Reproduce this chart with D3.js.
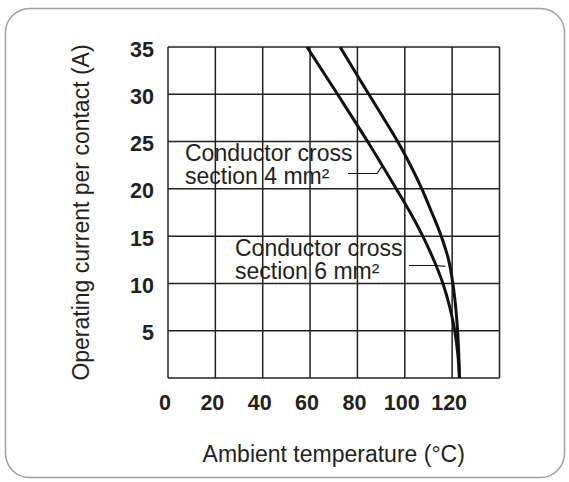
<!DOCTYPE html>
<html>
<head>
<meta charset="utf-8">
<script src="https://cdn.jsdelivr.net/npm/d3@7"></script>
<style>
  html, body { margin: 0; padding: 0; background: #fff; }
  svg { display: block; }
  text { font-family: "Liberation Sans", Arial, Helvetica, sans-serif; fill: #231f20; }
</style>
</head>
<body>
<svg id="chart" width="569" height="482"></svg>
<script>
// ---- data ----
const current4 = [35, 30, 25, 20, 17.5, 15, 12.5, 10, 7.5, 5, 2.5, 0];
const temp4    = [58.7, 71.6, 84.3, 96.4, 102.3, 107.6, 112.2, 116.1, 119.0, 121.1, 122.4, 123.1];

const current6 = [35, 30, 27.5, 25, 22.5, 20, 17.5, 15, 12.5, 10, 7.5, 5, 2.5, 0];
const temp6    = [72.7, 84.8, 91.0, 97.0, 102.4, 107.2, 111.4, 115.4, 118.5, 120.3, 121.5, 122.3, 122.8, 123.1];

const xTicks = [0, 20, 40, 60, 80, 100, 120];
const yTicks = [5, 10, 15, 20, 25, 30, 35];
const xGrid = [0, 20, 40, 60, 80, 100, 120, 140];
const yGrid = [0, 5, 10, 15, 20, 25, 30, 35];

const xTitle = "Ambient temperature (°C)";
const yTitle = "Operating current per contact (A)";
const label4 = ["Conductor cross", "section 4 mm²"];
const label6 = ["Conductor cross", "section 6 mm²"];

// ---- layout ----
const svg = d3.select("#chart");
const W = 569, H = 482;
const pL = 168, pR = 499.5, pT = 47, pB = 378;

const x = d3.scaleLinear().domain([0, 140]).range([pL, pR]);
const y = d3.scaleLinear().domain([0, 35]).range([pB, pT]);

svg.append("rect").attr("width", W).attr("height", H).attr("fill", "#fff");

// card frame
svg.append("rect")
  .attr("x", 5.5).attr("y", 8.5).attr("width", 559).attr("height", 469)
  .attr("rx", 24).attr("ry", 24)
  .attr("fill", "none").attr("stroke", "#a0a0a0").attr("stroke-width", 1.5);

const ink = "#231f20";

// grid
const g = svg.append("g");
g.selectAll("line.v").data(xGrid).join("line")
  .attr("x1", d => x(d)).attr("x2", d => x(d))
  .attr("y1", y(0)).attr("y2", y(35))
  .attr("stroke", ink).attr("stroke-width", 1.5);
g.selectAll("line.h").data(yGrid).join("line")
  .attr("y1", d => y(d)).attr("y2", d => y(d))
  .attr("x1", x(0)).attr("x2", x(140))
  .attr("stroke", ink).attr("stroke-width", 1.5);

// tick labels
svg.append("g").selectAll("text").data(yTicks).join("text")
  .attr("x", 154).attr("y", d => y(d) + 9.5)
  .attr("text-anchor", "end")
  .attr("font-size", 21.5).attr("font-weight", "bold")
  .text(d => d);

svg.append("g").selectAll("text").data(xTicks).join("text")
  .attr("x", d => x(d) - 3).attr("y", 410)
  .attr("text-anchor", "middle")
  .attr("font-size", 21.5).attr("font-weight", "bold")
  .text(d => d);

// axis titles
svg.append("text")
  .attr("x", (pL + pR) / 2).attr("y", 462)
  .attr("text-anchor", "middle").attr("font-size", 23)
  .text(xTitle);

svg.append("text")
  .attr("transform", `translate(89,${(pT + pB) / 2}) rotate(-90)`)
  .attr("text-anchor", "middle").attr("font-size", 23)
  .text(yTitle);

// curves
const line = d3.line().x(d => x(d[0])).y(d => y(d[1])).curve(d3.curveCatmullRom.alpha(0.5));
const pts4 = temp4.map((t, i) => [t, current4[i]]);
const pts6 = temp6.map((t, i) => [t, current6[i]]);
[pts4, pts6].forEach(p => {
  svg.append("path").attr("d", line(p))
    .attr("fill", "none").attr("stroke", "#111").attr("stroke-width", 3);
});

// annotations
function annot(lines, tx, ty, leader) {
  const t = svg.append("text").attr("font-size", 23);
  lines.forEach((s, i) => {
    t.append("tspan").attr("x", tx).attr("y", ty + i * 23).text(s);
  });
  svg.append("path").attr("d", d3.line()(leader))
    .attr("fill", "none").attr("stroke", "#111").attr("stroke-width", 1.2);
}
annot(label4, 185, 161, [[348, 173.5], [377, 173.5], [x(90.4), y(22.4)]]);
annot(label6, 235, 256, [[409, 265.5], [436, 265.5], [x(117.1), y(11.8)]]);
</script>
</body>
</html>
